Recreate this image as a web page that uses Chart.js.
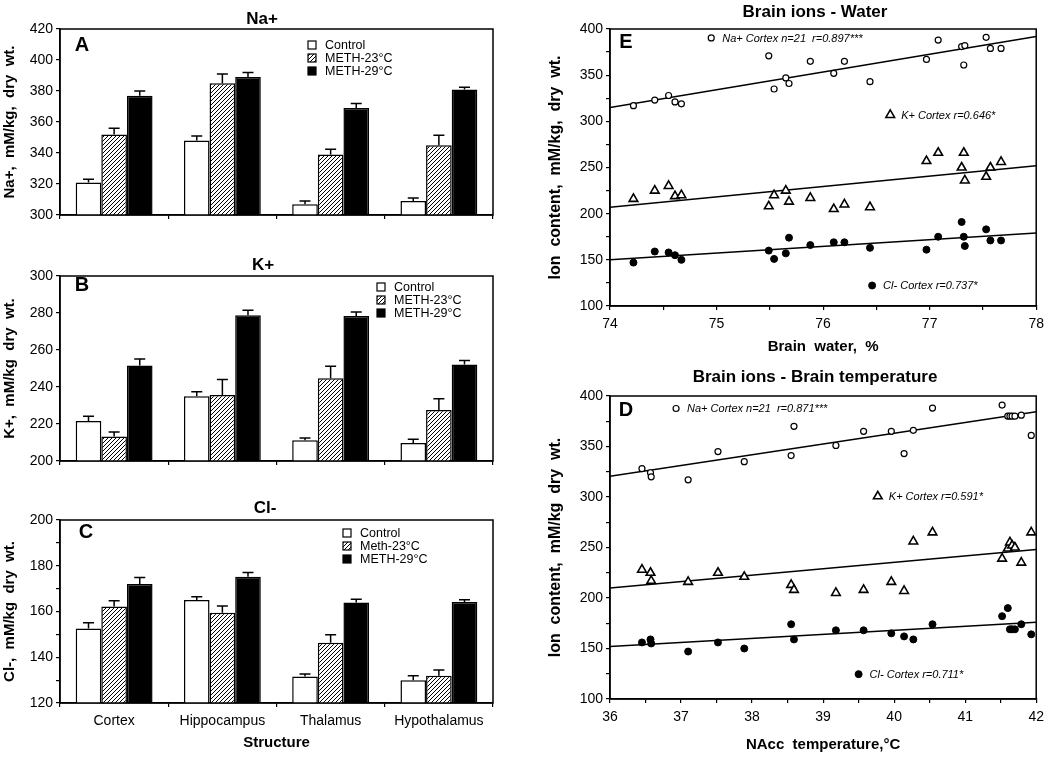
<!DOCTYPE html>
<html>
<head>
<meta charset="utf-8">
<script src="https://cdn.jsdelivr.net/npm/chart.js@4/dist/chart.umd.min.js"></script>
<style>
  body { margin: 0; background: #fff; width: 1050px; height: 757px; position: relative; overflow: hidden; }
  .panel { position: absolute; }
</style>
</head>
<body>
<div class="panel" style="left:0;top:0;width:500px;height:245px"><canvas id="chartA"></canvas></div>
<div class="panel" style="left:0;top:246px;width:500px;height:244px"><canvas id="chartB"></canvas></div>
<div class="panel" style="left:0;top:490px;width:500px;height:267px"><canvas id="chartC"></canvas></div>
<div class="panel" style="left:500px;top:0;width:550px;height:362px"><canvas id="chartE"></canvas></div>
<div class="panel" style="left:500px;top:365px;width:550px;height:392px"><canvas id="chartD"></canvas></div>
<script>
Chart.defaults.font.family = "'Liberation Sans', Arial, sans-serif";
Chart.defaults.color = '#000';
Chart.defaults.animation = false;
Chart.defaults.plugins.legend.display = false;
Chart.defaults.plugins.tooltip.enabled = false;

// ---- bar panels (A, B, C) ----
const structures = ['Cortex', 'Hippocampus', 'Thalamus', 'Hypothalamus'];
const groupsAB = ['Control', 'METH-23°C', 'METH-29°C'];
const groupsC = ['Control', 'Meth-23°C', 'METH-29°C'];

const naControl = [321, 348, 307, 309];
const naMeth23 = [352, 385, 339, 345];
const naMeth29 = [377, 389, 369, 381];
const naControlErr = [2, 3, 2, 2];
const naMeth23Err = [4, 6, 3.5, 6.5];
const naMeth29Err = [3, 3, 3, 1.5];

const kControl = [221.6, 235, 211.2, 209.7];
const kMeth23 = [213.2, 235.7, 244.7, 227.6];
const kMeth29 = [251.6, 278.8, 278.4, 252.1];
const kControlErr = [2.6, 2.5, 1.2, 2];
const kMeth23Err = [2.5, 8.3, 6.5, 6];
const kMeth29Err = [3.5, 2.7, 2.1, 2.2];

const clControl = [152.6, 165, 131.6, 129.9];
const clMeth23 = [162.2, 159.4, 146.3, 131.9];
const clMeth29 = [172, 175.2, 163.9, 164.2];
const clControlErr = [2.5, 1.4, 1.1, 2];
const clMeth23Err = [2.5, 3, 3.5, 2.5];
const clMeth29Err = [2.9, 1.9, 1.5, 0.9];

// ---- scatter panel E (brain water) ----
const waterE = [74.22, 74.42, 74.55, 74.61, 74.67, 75.49, 75.54, 75.65, 75.68, 75.88, 76.10,
                76.20, 76.44, 76.97, 77.08, 77.30, 77.32, 77.33, 77.53, 77.57, 77.67];
const naE = [317, 323, 328, 321, 319, 371, 335, 347, 341, 365, 352, 365, 343, 367, 388, 381, 361, 382, 391, 379, 379];
const kE = [216, 225, 230, 219, 220, 208, 220, 225, 213, 217, 205, 210, 207, 257, 266, 250, 266, 236, 240, 250, 256];
const clE = [147, 159, 158, 155, 150, 160, 151, 157, 174, 166, 169, 169, 163, 161, 175, 191, 175, 165, 183, 171, 171];
const fitXE = [74, 78];
const naFitE = [315, 392];
const kFitE = [207, 252];
const clFitE = [150, 179];
const notesE = ['Na+ Cortex n=21  r=0.897***', 'K+ Cortex r=0.646*', 'Cl- Cortex r=0.737*'];

// ---- scatter panel D (brain temperature) ----
const tempD = [36.45, 36.57, 36.58, 37.10, 37.52, 37.89, 38.55, 38.59, 39.18, 39.57, 39.96,
               40.14, 40.27, 40.54, 41.52, 41.60, 41.63, 41.66, 41.70, 41.79, 41.93];
const naD = [328, 324, 320, 317, 345, 335, 341, 370, 351, 365, 365, 343, 366, 388, 391, 380, 380, 380, 380, 381, 361];
const kD = [228, 225, 217, 216, 225, 221, 213, 208, 205, 208, 216, 207, 256, 265, 239, 249, 255, 252, 250, 235, 265];
const clD = [156, 159, 155, 147, 156, 150, 174, 159, 168, 168, 165, 162, 159, 174, 182, 190, 169, 169, 169, 174, 164];
const fitXD = [36, 42];
const naFitD = [320.5, 384.5];
const kFitD = [210, 248];
const clFitD = [152, 176];
const notesD = ['Na+ Cortex n=21  r=0.871***', 'K+ Cortex r=0.591*', 'Cl- Cortex r=0.711*'];

function makeHatch() {
    const c = document.createElement('canvas');
    c.width = 4; c.height = 4;
    const g = c.getContext('2d');
    g.fillStyle = '#fff';
    g.fillRect(0, 0, 4, 4);
    g.strokeStyle = '#000';
    g.lineWidth = 1;
    g.beginPath();
    g.moveTo(0, 4); g.lineTo(4, 0);
    g.moveTo(-1, 1); g.lineTo(1, -1);
    g.moveTo(3, 5); g.lineTo(5, 3);
    g.stroke();
    return g.createPattern(c, 'repeat');
}
const hatch = makeHatch();

// box round the plot area
const frame = {
    id: 'frame',
    afterDraw(chart) {
        const { ctx, chartArea: a } = chart;
        ctx.save();
        ctx.strokeStyle = '#000';
        ctx.lineWidth = 1.5;
        ctx.strokeRect(a.left, a.top, a.right - a.left, a.bottom - a.top);
        ctx.restore();
    }
};

// upper error bars (T caps)
const errorBars = {
    id: 'errorBars',
    afterDatasetsDraw(chart) {
        const { ctx, scales: { y } } = chart;
        ctx.save();
        ctx.strokeStyle = '#000';
        ctx.lineWidth = 1.5;
        chart.data.datasets.forEach((ds, i) => {
            if (!ds.errors) return;
            chart.getDatasetMeta(i).data.forEach((bar, j) => {
                const top = y.getPixelForValue(ds.data[j] + ds.errors[j]);
                ctx.beginPath();
                ctx.moveTo(bar.x, bar.y);
                ctx.lineTo(bar.x, top);
                ctx.moveTo(bar.x - 5.5, top);
                ctx.lineTo(bar.x + 5.5, top);
                ctx.stroke();
            });
        });
        ctx.restore();
    }
};

// panel title and panel letter
const panelText = {
    id: 'panelText',
    afterDraw(chart, args, opts) {
        const ctx = chart.ctx;
        ctx.save();
        ctx.fillStyle = '#000';
        ctx.textAlign = 'center';
        ctx.textBaseline = 'middle';
        ctx.font = "bold 17px 'Liberation Sans', Arial, sans-serif";
        ctx.fillText(opts.title, opts.titleX, opts.titleY);
        ctx.font = "bold 20px 'Liberation Sans', Arial, sans-serif";
        ctx.fillText(opts.letter, opts.letterX, opts.letterY);
        ctx.restore();
    }
};

// small legend box inside bar panels
const boxLegend = {
    id: 'boxLegend',
    afterDraw(chart, args, opts) {
        const ctx = chart.ctx;
        ctx.save();
        ctx.font = "12.5px 'Liberation Sans', Arial, sans-serif";
        ctx.textBaseline = 'middle';
        ctx.textAlign = 'left';
        chart.data.datasets.forEach((ds, i) => {
            const cy = opts.y + i * 13;
            ctx.fillStyle = ds.backgroundColor;
            ctx.fillRect(opts.x - 4, cy - 4, 8, 8);
            ctx.strokeStyle = '#000';
            ctx.lineWidth = 1.2;
            ctx.strokeRect(opts.x - 4, cy - 4, 8, 8);
            ctx.fillStyle = '#000';
            ctx.fillText(ds.label, opts.x + 13, cy + 0.5);
        });
        ctx.restore();
    }
};

// marker + italic label placed at a data position for each scatter series
const seriesNotes = {
    id: 'seriesNotes',
    afterDraw(chart, args, opts) {
        const { ctx, scales: { x, y } } = chart;
        ctx.save();
        opts.at.forEach((pos, i) => {
            const ds = chart.data.datasets[i];
            const px = x.getPixelForValue(pos[0]);
            const py = y.getPixelForValue(pos[1]);
            ctx.fillStyle = ds.backgroundColor;
            ctx.strokeStyle = ds.borderColor;
            ctx.lineWidth = ds.borderWidth;
            Chart.helpers.drawPoint(ctx, { pointStyle: ds.pointStyle, radius: ds.pointRadius, borderWidth: ds.borderWidth, rotation: 0 }, px, py);
            ctx.fillStyle = '#000';
            ctx.font = "italic 11px 'Liberation Sans', Arial, sans-serif";
            ctx.textAlign = 'left';
            ctx.textBaseline = 'middle';
            ctx.fillText(ds.label, px + 11, py + 0.5);
        });
        ctx.restore();
    }
};

const axisLine = { color: '#000', width: 1.5 };
const tickGrid = { drawOnChartArea: false, tickLength: 4, color: '#000', lineWidth: 1.2 };

function barPanel(id, p) {
    return new Chart(document.getElementById(id), {
        type: 'bar',
        data: {
            labels: structures,
            datasets: [
                { label: p.groups[0], data: p.values[0], errors: p.errors[0], backgroundColor: '#fff' },
                { label: p.groups[1], data: p.values[1], errors: p.errors[1], backgroundColor: hatch },
                { label: p.groups[2], data: p.values[2], errors: p.errors[2], backgroundColor: '#000' }
            ]
        },
        options: {
            responsive: true,
            maintainAspectRatio: false,
            layout: { padding: { top: p.padTop, right: 7, left: 0, bottom: 0 } },
            datasets: { bar: { categoryPercentage: 0.71, barPercentage: 1, borderColor: '#000', borderWidth: 1.5, borderSkipped: 'start' } },
            plugins: { panelText: p.text, boxLegend: p.legend },
            scales: {
                x: {
                    ticks: { display: p.showLabels, font: { size: 14 }, padding: 6, maxRotation: 0 },
                    grid: { ...tickGrid, offset: true },
                    border: axisLine,
                    title: { display: p.showLabels, text: 'Structure', font: { size: 15, weight: 'bold' }, padding: { top: 0, bottom: 5 } },
                    afterFit: s => { s.height = p.xHeight; }
                },
                y: {
                    min: p.min,
                    max: p.max,
                    ticks: { stepSize: 10, font: { size: 14 }, padding: 3, callback: v => (v % 20 === 0 ? v : '') },
                    grid: tickGrid,
                    border: axisLine,
                    title: { display: true, text: p.yTitle, font: { size: 15, weight: 'bold' }, padding: { top: 1, bottom: 0 } },
                    afterFit: s => { s.width = 60; }
                }
            }
        },
        plugins: [frame, errorBars, panelText, boxLegend]
    });
}

function scatterPanel(id, p) {
    const pts = (xs, ys) => xs.map((v, i) => ({ x: v, y: ys[i] }));
    const fit = (ys) => ({ data: pts(p.fitX, ys), showLine: true, borderColor: '#000', borderWidth: 1.5, pointRadius: 0, order: 1 });
    return new Chart(document.getElementById(id), {
        type: 'scatter',
        data: {
            datasets: [
                { label: p.notes[0], data: pts(p.xs, p.na), pointStyle: 'circle', pointRadius: 3, backgroundColor: '#fff', borderColor: '#000', borderWidth: 1.2 },
                { label: p.notes[1], data: pts(p.xs, p.k), pointStyle: 'triangle', pointRadius: 5, backgroundColor: '#fff', borderColor: '#000', borderWidth: 1.6 },
                { label: p.notes[2], data: pts(p.xs, p.cl), pointStyle: 'circle', pointRadius: 3.5, backgroundColor: '#000', borderColor: '#000', borderWidth: 1 },
                fit(p.naFit), fit(p.kFit), fit(p.clFit)
            ]
        },
        options: {
            responsive: true,
            maintainAspectRatio: false,
            layout: { padding: { top: p.padTop, right: 13, left: 0, bottom: 0 } },
            plugins: { panelText: p.text, seriesNotes: { at: p.noteAt } },
            scales: {
                x: {
                    type: 'linear',
                    min: p.xMin,
                    max: p.xMax,
                    ticks: { stepSize: 0.5, autoSkip: false, maxRotation: 0, font: { size: 14 }, padding: 6, callback: v => (Number.isInteger(v) ? v : '') },
                    grid: tickGrid,
                    border: axisLine,
                    title: { display: true, text: p.xTitle, font: { size: 15, weight: 'bold' }, padding: { top: 0, bottom: p.xTitlePad } },
                    afterFit: s => { s.height = p.xHeight; }
                },
                y: {
                    min: 100,
                    max: 400,
                    ticks: { stepSize: 25, font: { size: 14 }, padding: 3, callback: v => (v % 50 === 0 ? v : '') },
                    grid: tickGrid,
                    border: axisLine,
                    title: { display: true, text: p.yTitle, font: { size: 16, weight: 'bold' }, padding: { top: 46, bottom: 0 } },
                    afterFit: s => { s.width = 110; }
                }
            }
        },
        plugins: [frame, panelText, seriesNotes]
    });
}

barPanel('chartA', {
    groups: groupsAB,
    values: [naControl, naMeth23, naMeth29],
    errors: [naControlErr, naMeth23Err, naMeth29Err],
    min: 300, max: 420, padTop: 29, xHeight: 30, showLabels: false,
    yTitle: 'Na+,  mM/kg,  dry  wt.',
    text: { title: 'Na+', titleX: 262, titleY: 19, letter: 'A', letterX: 82, letterY: 45 },
    legend: { x: 312, y: 45 }
});

barPanel('chartB', {
    groups: groupsAB,
    values: [kControl, kMeth23, kMeth29],
    errors: [kControlErr, kMeth23Err, kMeth29Err],
    min: 200, max: 300, padTop: 30, xHeight: 29, showLabels: false,
    yTitle: 'K+,  mM/kg  dry  wt.',
    text: { title: 'K+', titleX: 263, titleY: 19, letter: 'B', letterX: 82, letterY: 39 },
    legend: { x: 381, y: 41 }
});

barPanel('chartC', {
    groups: groupsC,
    values: [clControl, clMeth23, clMeth29],
    errors: [clControlErr, clMeth23Err, clMeth29Err],
    min: 120, max: 200, padTop: 30, xHeight: 54, showLabels: true,
    yTitle: 'Cl-,  mM/kg  dry  wt.',
    text: { title: 'Cl-', titleX: 265, titleY: 18, letter: 'C', letterX: 86, letterY: 42 },
    legend: { x: 347, y: 43 }
});

scatterPanel('chartE', {
    xs: waterE, na: naE, k: kE, cl: clE,
    fitX: fitXE, naFit: naFitE, kFit: kFitE, clFit: clFitE,
    notes: notesE,
    xMin: 74, xMax: 78, padTop: 29, xHeight: 56, xTitlePad: 6,
    xTitle: 'Brain  water,  %',
    yTitle: 'Ion  content,  mM/kg,  dry  wt.',
    text: { title: 'Brain ions - Water', titleX: 315, titleY: 12, letter: 'E', letterX: 126, letterY: 42 },
    noteAt: [[74.95, 390.3], [76.63, 306.9], [76.46, 122.2]]
});

scatterPanel('chartD', {
    xs: tempD, na: naD, k: kD, cl: clD,
    fitX: fitXD, naFit: naFitD, kFit: kFitD, clFit: clFitD,
    notes: notesD,
    xMin: 36, xMax: 42, padTop: 31, xHeight: 58, xTitlePad: 3,
    xTitle: 'NAcc  temperature,°C',
    yTitle: 'Ion  content,  mM/kg  dry  wt.',
    text: { title: 'Brain ions - Brain temperature', titleX: 315, titleY: 12, letter: 'D', letterX: 126, letterY: 45 },
    noteAt: [[36.93, 387.6], [39.77, 300.7], [39.50, 124.6]]
});
</script>
</body>
</html>
